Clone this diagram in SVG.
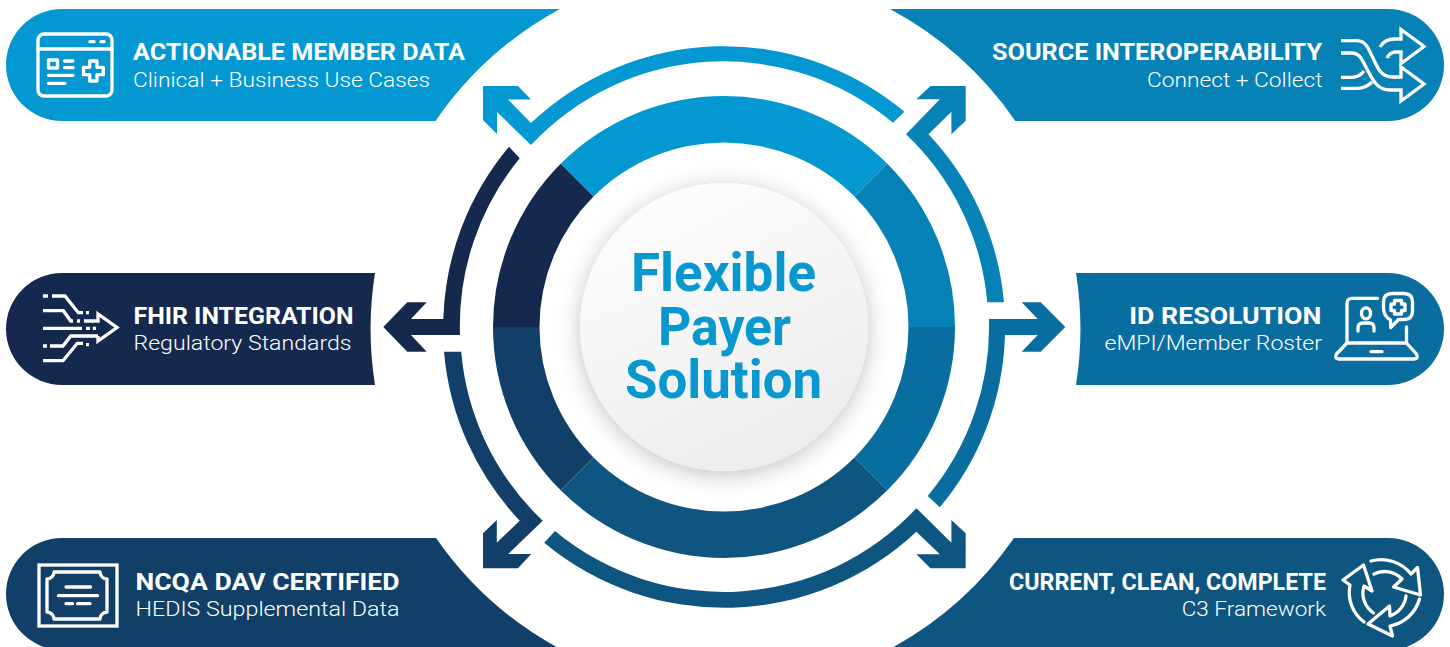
<svg xmlns="http://www.w3.org/2000/svg" width="1450" height="647" viewBox="0 0 1450 647">
<style>
.t{font-family:"Roboto","Liberation Sans",sans-serif;font-weight:700;font-size:24px;fill:#fff}
.s{font-family:"Roboto","Liberation Sans",sans-serif;font-weight:300;font-size:21px;fill:#fff}
.c{font-family:"Roboto","Liberation Sans",sans-serif;font-weight:700;font-size:54px;fill:#0897cf}
.i{fill:none;stroke:#fff;stroke-width:3.3;stroke-linecap:round;stroke-linejoin:round}
.m{fill:none;stroke:#fff;stroke-width:3.3;stroke-linejoin:miter}
.c1{fill:#0398d1}.c2{fill:#0682b7}.c3{fill:#0a6d9f}.c4{fill:#0e5680}.c5{fill:#113f68}.c6{fill:#15294f}
</style>
<defs>
<linearGradient id="disc" x1="0.25" y1="0.05" x2="0.7" y2="1">
<stop offset="0" stop-color="#fdfdfd"/><stop offset="1" stop-color="#ececec"/>
</linearGradient>
<filter id="sh" x="-30%" y="-30%" width="160%" height="160%">
<feDropShadow dx="0" dy="4" stdDeviation="11" flood-color="#000" flood-opacity="0.24"/>
</filter>
</defs>
<rect width="1450" height="647" fill="#fff"/>

<g id="hub">
<path class="c1" d="M560.7 163.7A231 231 0 0 1 887.3 163.7L854.5 196.5A184.5 184.5 0 0 0 593.5 196.5Z"/>
<path class="c2" d="M887.3 163.7A231 231 0 0 1 955 327H908.5A184.5 184.5 0 0 0 854.5 196.5Z"/>
<path class="c3" d="M955 327A231 231 0 0 1 887.3 490.3L854.5 457.5A184.5 184.5 0 0 0 908.5 327Z"/>
<path class="c4" d="M887.3 490.3A231 231 0 0 1 560.7 490.3L593.5 457.5A184.5 184.5 0 0 0 854.5 457.5Z"/>
<path class="c5" d="M560.7 490.3A231 231 0 0 1 493 327H539.5A184.5 184.5 0 0 0 593.5 457.5Z"/>
<path class="c6" d="M493 327A231 231 0 0 1 560.7 163.7L593.5 196.5A184.5 184.5 0 0 0 539.5 327Z"/>
<circle cx="724" cy="327" r="144" fill="url(#disc)" filter="url(#sh)"/>
<text class="c" x="631" y="290.5" textLength="185" lengthAdjust="spacingAndGlyphs">Flexible</text>
<text class="c" x="658" y="344.5" textLength="133" lengthAdjust="spacingAndGlyphs">Payer</text>
<text class="c" x="625" y="397.5" textLength="197" lengthAdjust="spacingAndGlyphs">Solution</text>
</g>

<g id="connectors">
<path class="c1" d="M483 86H518L531 99.5H508L531 123A281 281 0 0 1 904.4 111.7L893 122.7A264 264 0 0 0 531 145L497 112V134L483 120Z"/>
<path class="c2" d="M965.7 86H930.4L916.4 99.3H939.8L906 134.3A264 264 0 0 1 987.3 302.3H1004A281 281 0 0 0 928.5 134.3L951.4 111.7V134.3L965.7 120.7Z"/>
<path class="c3" d="M1065.3 327L1040.7 302.3H1021.7L1037.7 319H989A264 264 0 0 1 927.7 496L939.8 507.3A281 281 0 0 0 1005 335H1037.7L1021.7 351.7H1040.7Z"/>
<path class="c4" d="M916.4 508.3L951.4 542.7V520L965.7 533.3V568.3H930.4L916.4 554.3H939.8L916.4 531.7A281 281 0 0 1 544.2 542.7L555 531A264 264 0 0 0 916.4 508.3Z"/>
<path class="c5" d="M461.2 351.7A264 264 0 0 0 542.7 520.7L508.2 554H531.2L518 568.3H483V533.3L496.8 520V542.7L519.7 520.7A281 281 0 0 1 444 351.7Z"/>
<path class="c6" d="M383.3 327L407.3 302.3H426.7L411 319H443.3A281 281 0 0 1 509 146.7L519.7 158.3A264 264 0 0 0 460 335H411L426.7 351.7H407.3Z"/>
</g>

<g id="node-actionable">
<path class="c1" d="M560 9H62A56 56 0 0 0 62 121H435.5A358 358 0 0 1 560 9Z"/>
<rect class="i" x="38" y="34" width="74" height="62" rx="6"/>
<path class="i" d="M38 49H112M90 41.7H94M101 41.7H104M64.5 61H73M64.5 67.7H73M48.5 75.3H73M48.5 83.3H65"/>
<rect class="i" x="48.5" y="60" width="9" height="8" stroke-linejoin="miter"/>
<path class="i" d="M89.7 61H97V67.3H103.3V74.7H97V81H89.7V74.7H83.5V67.3H89.7Z"/>
<text class="t" x="133" y="60" textLength="332" lengthAdjust="spacingAndGlyphs">ACTIONABLE MEMBER DATA</text>
<text class="s" x="133" y="86.5" textLength="297" lengthAdjust="spacingAndGlyphs">Clinical + Business Use Cases</text>
</g>

<g id="node-source">
<path class="c2" d="M890 9H1388A56 56 0 0 1 1388 121H1015.4A358 358 0 0 0 890 9Z"/>
<path class="m" d="M1341 40.7H1356C1366 40.7 1368 48 1372 56C1377 66 1380 77 1392 77H1401V67L1424 84L1401 101V90H1390C1377 90 1373 80 1368 71C1362 60 1360 53 1352 53H1341"/>
<path class="m" d="M1380 47C1383 42 1388 39 1394 39H1401V29.5L1424 46.5L1401 63.5V52H1396C1392 52 1389 54 1387 58"/>
<path class="m" d="M1341 77.3H1352C1358 77.3 1361 75 1364 71M1341 88.3H1358C1364 88.3 1368 86 1372 82"/>
<text class="t" x="992" y="60" textLength="330" lengthAdjust="spacingAndGlyphs">SOURCE INTEROPERABILITY</text>
<text class="s" x="1147" y="87" textLength="175.5" lengthAdjust="spacingAndGlyphs">Connect + Collect</text>
</g>

<g id="node-fhir">
<path class="c6" d="M375 273H62A56 56 0 0 0 62 385H375A356 356 0 0 1 375 273Z"/>
<path class="m" d="M43 296H48M52 296H65L78.3 312.7H83M86 312.7H89M43 310.7H63.3L70.7 321H73M77 321H80M43 328.3H82M86 328.3H90M92.7 328.3H96M43 346H47M50 346H63L70.7 336H98M86 344.7H89M43 360.7H63L77.3 343.3H83M84 321H98V314L117 327.5L98 341V336"/>
<text class="t" x="133.5" y="324" textLength="220" lengthAdjust="spacingAndGlyphs">FHIR INTEGRATION</text>
<text class="s" x="133.5" y="350" textLength="218" lengthAdjust="spacingAndGlyphs">Regulatory Standards</text>
</g>

<g id="node-id">
<path class="c3" d="M1076 273H1388A56 56 0 0 1 1388 385H1076A356 356 0 0 0 1076 273Z"/>
<path class="i" d="M1377.5 298.3H1352Q1347 298.3 1347 303.3V343M1406.5 327V343M1347 343L1336.5 354Q1334 359 1339 359H1414Q1419 359 1416.5 354L1406.5 343ZM1371 351.7H1382"/>
<ellipse class="i" cx="1366" cy="313.3" rx="4.5" ry="5.5"/>
<path class="i" d="M1358 331V328Q1358 323 1363 323H1369Q1374 323 1374 328V331"/>
<path class="i" d="M1390.5 320Q1383.5 316 1383.5 308V302Q1383.5 293.5 1392 293.5H1404Q1412.5 293.5 1412.5 302V311Q1412.5 319.5 1404 319.5H1398.5L1390.7 327.5Z"/>
<path class="i" d="M1394.5 300.5H1401.5V304H1405V310.5H1401.5V314H1394.5V310.5H1391V304H1394.5Z"/>
<text class="t" x="1129.3" y="324" textLength="192" lengthAdjust="spacingAndGlyphs">ID RESOLUTION</text>
<text class="s" x="1104.5" y="350" textLength="217.5" lengthAdjust="spacingAndGlyphs">eMPI/Member Roster</text>
</g>

<g id="node-ncqa">
<path class="c5" d="M436 538H62A56 56 0 0 0 62 650H562A358 358 0 0 1 436 538Z"/>
<rect class="m" x="39" y="565" width="78" height="61"/>
<path class="i" d="M54 572H100A7 7 0 0 0 107 579V612A7 7 0 0 0 100 619H54A7 7 0 0 0 47 612V579A7 7 0 0 0 54 572ZM66 587H90.5M58.5 595.7H97.5M66 603.7H72.5M77.5 603.7H90"/>
<text class="t" x="135.5" y="590" textLength="264" lengthAdjust="spacingAndGlyphs">NCQA DAV CERTIFIED</text>
<text class="s" x="135.5" y="616" textLength="264" lengthAdjust="spacingAndGlyphs">HEDIS Supplemental Data</text>
</g>

<g id="node-current">
<path class="c4" d="M1014 538H1388A56 56 0 0 1 1388 650H888A358 358 0 0 0 1014 538Z"/>
<path class="i" d="M1371 561A38 38 0 0 1 1411 574L1417.5 567.5L1420.5 595L1393.5 587L1402 579A24 24 0 0 0 1374 574"/>
<path class="i" d="M1364 622A37 37 0 0 1 1350 585L1343 580L1363.5 565L1372 591L1364 586A24 24 0 0 0 1373.5 613"/>
<path class="i" d="M1419.5 599A38 38 0 0 1 1390 626L1392.5 636L1368 624L1389.5 606L1390 616A24 24 0 0 0 1406 596"/>
<text class="t" x="1009" y="590" textLength="317" lengthAdjust="spacingAndGlyphs">CURRENT, CLEAN, COMPLETE</text>
<text class="s" x="1181.7" y="616" textLength="144.3" lengthAdjust="spacingAndGlyphs">C3 Framework</text>
</g>
</svg>
